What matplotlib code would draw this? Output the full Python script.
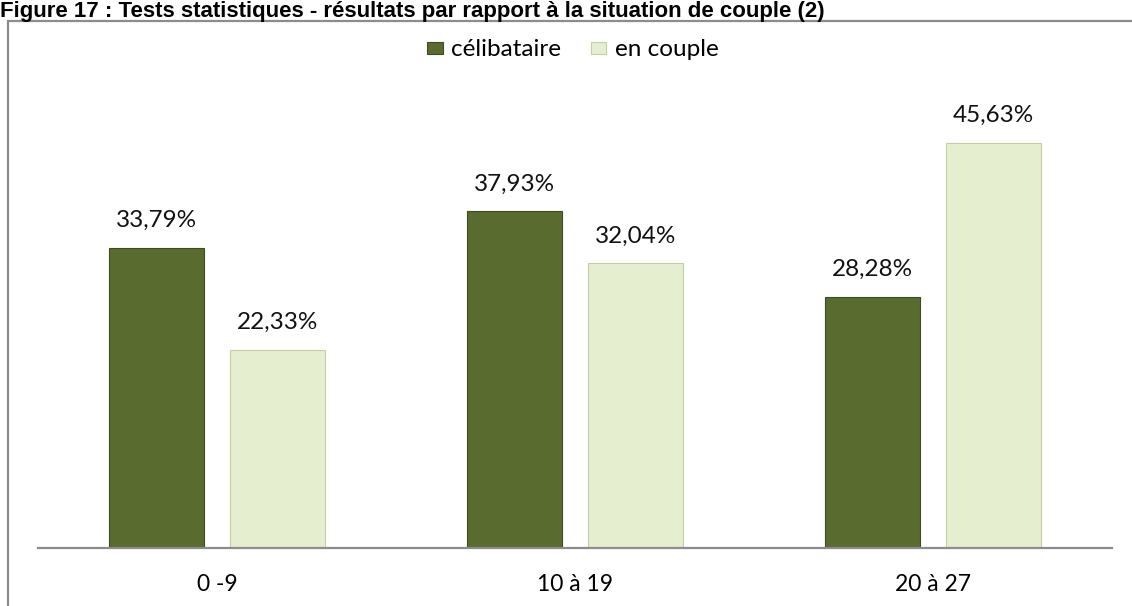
import matplotlib.pyplot as plt
import matplotlib.patches as mpatches
import numpy as np

categories = ['0 -9', '10 à 19', '20 à 27']
celibataire = [33.79, 37.93, 28.28]
en_couple = [22.33, 32.04, 45.63]
labels = ['célibataire', 'en couple']

plt.rcParams['font.family'] = ['Lato', 'DejaVu Sans']

fig = plt.figure(figsize=(11.32, 6.06), dpi=100)
ax = fig.add_axes([0.0336, 0.0957, 0.9488, 0.7327])

x = np.arange(len(categories))
w = 0.265
off = 0.168
b1 = ax.bar(x - off, celibataire, w, color='#596B2F', edgecolor='#3E4B1F', linewidth=0.8, label=labels[0])
b2 = ax.bar(x + off, en_couple, w, color='#E5EECF', edgecolor='#C3CFA2', linewidth=0.8, label=labels[1])

for bars, vals in [(b1, celibataire), (b2, en_couple)]:
    for bar, v in zip(bars, vals):
        ax.annotate(f'{v:.2f}%'.replace('.', ','),
                    (bar.get_x() + bar.get_width() / 2, bar.get_height()),
                    xytext=(0, 12), textcoords='offset points',
                    ha='center', va='bottom', fontsize=17.5, color='#111111')

ax.set_xlim(-0.5, 2.5)
ax.set_ylim(0, 50)
ax.set_xticks(x)
ax.set_xticklabels(categories, fontsize=16.5)
ax.tick_params(axis='x', length=0, pad=19)
ax.set_yticks([])
for s in ['top', 'right', 'left']:
    ax.spines[s].set_visible(False)
ax.spines['bottom'].set_color('#8C8C8C')
ax.spines['bottom'].set_linewidth(1.6)

ax.legend(loc='center', bbox_to_anchor=(0.506, 0.9175), bbox_transform=fig.transFigure,
          ncol=2, frameon=False, fontsize=17.5, handlelength=0.65, handleheight=0.4,
          handletextpad=0.35, columnspacing=1.2)

# cadre du graphique
fig.add_artist(mpatches.Rectangle((8 / 1132, -0.05), 1.2, 1 - 21 / 606 + 0.05,
                                  transform=fig.transFigure, fill=False,
                                  edgecolor='#8C8C8C', linewidth=1.6))

# titre
fig.text(0.0, 1 - 17 / 606, 'Figure 17 : Tests statistiques - résultats par rapport à la situation de couple (2)',
         ha='left', va='baseline', fontsize=16, fontweight='bold',
         family=['Liberation Sans', 'DejaVu Sans'])

fig.savefig('out.png', dpi=100)
